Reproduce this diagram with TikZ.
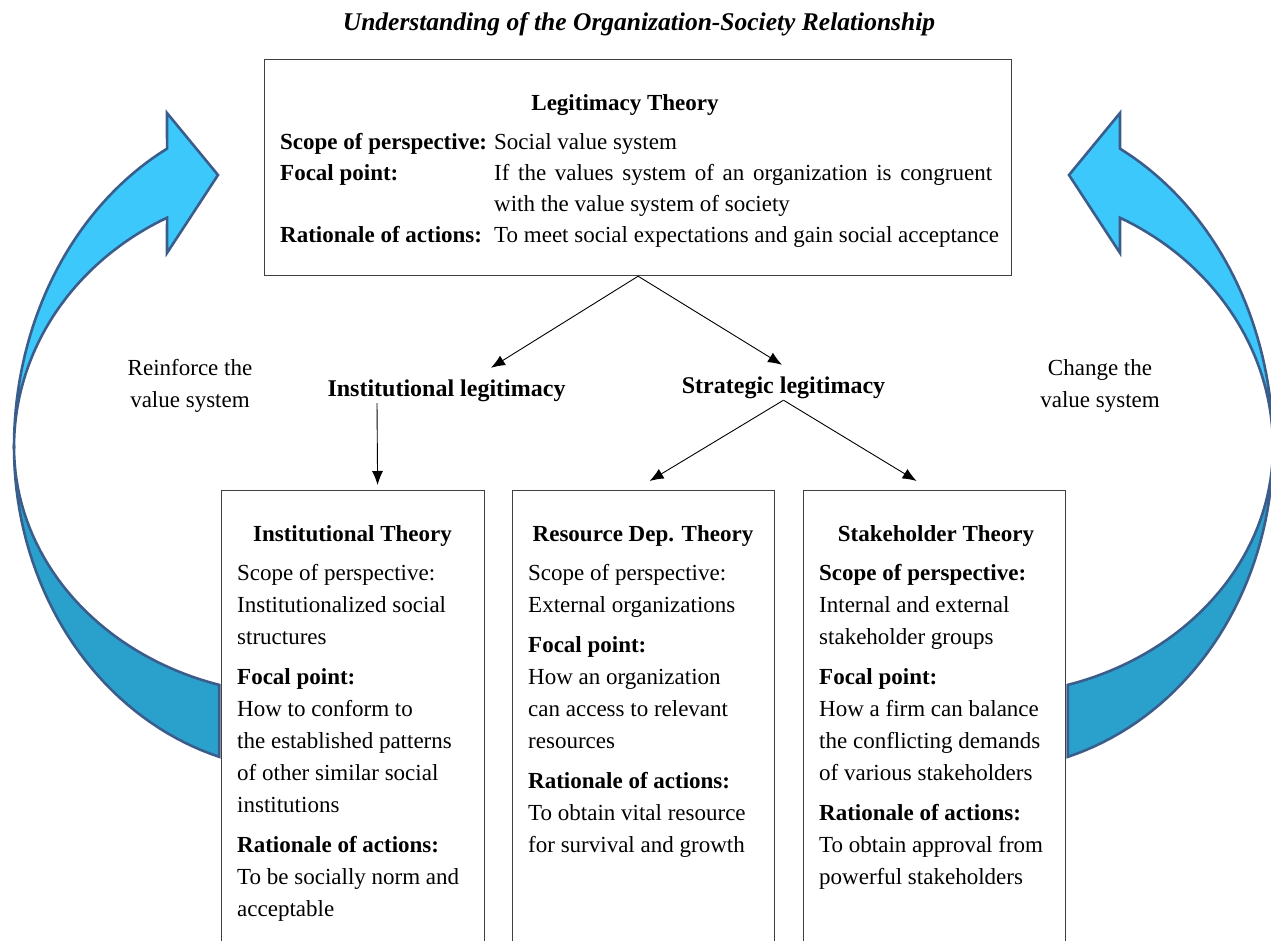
\documentclass[tikz,border=0pt]{standalone}
\usepackage{fontspec}
\setmainfont{Liberation Serif}
\usetikzlibrary{arrows.meta}

\definecolor{arrowlightc}{HTML}{3CC8FA}
\definecolor{arrowdarkc}{HTML}{2AA1CC}
\definecolor{arrowedgec}{HTML}{3A5D8C}

\tikzset{
    valuearrow/.pic={
        % lower (dark) band
        \filldraw[fill=arrowdarkc, draw=arrowedgec, line width=2.6pt]
            plot[domain=180:106.4, samples=40] ({300+286*cos(\x)},{447+248*sin(\x)})
            -- plot[domain=106.4:180, samples=40] ({300+286*cos(\x)},{447+323*sin(\x)}) -- cycle;
        % upper (light) band with the head
        \filldraw[fill=arrowlightc, draw=arrowedgec, line width=2.6pt]
            plot[domain=-117.7:-180, samples=40] ({300+286*cos(\x)},{447+337*sin(\x)})
            -- plot[domain=-180:-117.7, samples=40] ({300+286*cos(\x)},{447+259*sin(\x)})
            -- (167,253) -- (218,175) -- (167,113) -- cycle;
    }
}

\begin{document}
\begin{tikzpicture}[x=1pt, y=-1pt,
    every node/.style={font=\fontsize{23}{32}\selectfont},
    box/.style={draw=black!75, line width=1.2pt, anchor=north west, inner sep=0pt},
    bodytext/.style={anchor=north west, align=left, inner sep=0pt},
    boxtitle/.style={anchor=base, inner sep=0pt, font=\fontsize{23}{32}\selectfont\bfseries},
    legitlabel/.style={anchor=base, inner xsep=0pt, inner ysep=0pt, text height=28pt, text depth=7pt,
        font=\fontsize{24}{30}\selectfont\bfseries},
    arr/.style={-{Latex[length=14pt,width=11pt]}, line width=0.9pt}]

    \useasboundingbox (0,0) rectangle (1271,941);

    % Curved arrows
    \pic at (0,0) {valuearrow};
    \pic[xscale=-1] at (1287,0) {valuearrow};

    % Title
    \node[anchor=base, font=\fontsize{25.5}{30}\selectfont\bfseries\itshape] (title) at (639,31)
        {Understanding of the Organization-Society Relationship};

    % Legitimacy theory
    \node[box, minimum width=747pt, minimum height=216pt] (legit) at (264,59) {};
    \node[boxtitle] (legittitle) at (625,111) {Legitimacy Theory};
    \node[bodytext, font=\fontsize{23}{31}\selectfont] (legitbody) at (280,133) {%
        \makebox[214pt][l]{\bfseries Scope of perspective:}Social value system\\
        \makebox[214pt][l]{\bfseries Focal point:}\makebox[498pt][s]{If the values system of an organization is congruent}\\
        \hspace*{214pt}with the value system of society\\
        \makebox[214pt][l]{\bfseries Rationale of actions:}To meet social expectations and gain social acceptance};

    % Side texts
    \node[anchor=north, align=center] (reinforce) at (190,356) {Reinforce the\\value system};
    \node[anchor=north, align=center] (change) at (1100,356) {Change the\\value system};

    % Legitimacy types
    \node[legitlabel] (instlegit) at (446.5,396) {Institutional legitimacy};
    \node[legitlabel] (stratlegit) at (783.5,393) {Strategic legitimacy};

    % Theory boxes
    \node[box, minimum width=263pt, minimum height=480pt] (inst) at (221,490) {};
    \node[box, minimum width=262pt, minimum height=480pt] (resdep) at (512,490) {};
    \node[box, minimum width=262pt, minimum height=480pt] (stake) at (803,490) {};

    \node[boxtitle] (insttitle) at (352.5,541) {Institutional Theory};
    \node[bodytext] (instbody) at (237,564) {%
        Scope of perspective:\\
        Institutionalized social\\
        structures\\[8pt]
        \textbf{Focal point:}\\
        How to conform to\\
        the established patterns\\
        of other similar social\\
        institutions\\[8pt]
        \textbf{Rationale of actions:}\\
        To be socially norm and\\
        acceptable};

    \node[boxtitle] (resdeptitle) at (643,541) {Resource Dep. Theory};
    \node[bodytext] (resdepbody) at (528,564) {%
        Scope of perspective:\\
        External organizations\\[8pt]
        \textbf{Focal point:}\\
        How an organization\\
        can access to relevant\\
        resources\\[8pt]
        \textbf{Rationale of actions:}\\
        To obtain vital resource\\
        for survival and growth};

    \node[boxtitle] (staketitle) at (936,541) {Stakeholder Theory};
    \node[bodytext] (stakebody) at (819,564) {%
        \textbf{Scope of perspective:}\\
        Internal and external\\
        stakeholder groups\\[8pt]
        \textbf{Focal point:}\\
        How a firm can balance\\
        the conflicting demands\\
        of various stakeholders\\[8pt]
        \textbf{Rationale of actions:}\\
        To obtain approval from\\
        powerful stakeholders};

    % Connectors
    \draw[arr] (legit.south) -- ([xshift=44.5pt]instlegit.north);
    \draw[arr] (legit.south) -- ([xshift=-1.5pt]stratlegit.north);
    \draw[arr] ([xshift=-69.5pt]instlegit.south) -- ([xshift=24.5pt,yshift=5pt]inst.north);
    \draw[arr] (stratlegit.south) -- ([xshift=6pt,yshift=9pt]resdep.north);
    \draw[arr] (stratlegit.south) -- ([xshift=-18pt,yshift=9pt]stake.north);

\end{tikzpicture}
\end{document}
